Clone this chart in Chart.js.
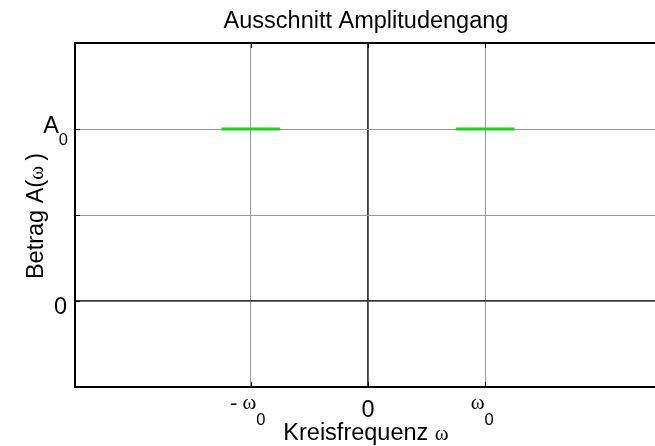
<!DOCTYPE html>
<html>
<head>
<meta charset="utf-8">
<script src="https://cdn.jsdelivr.net/npm/chart.js@4/dist/chart.umd.min.js"></script>
<style>
  html, body { margin: 0; padding: 0; background: #fff; overflow: hidden; }
  #wrap { width: 680px; height: 446px; }
</style>
</head>
<body>
<div id="wrap"><canvas id="amp" width="680" height="446"></canvas></div>
<script>
// Passband pieces of the amplitude response (frequency in units of w0)
const bandNeg = [-1.25, -0.75];
const bandPos = [0.75, 1.25];
const amplitude = 1;

// Axis ranges and ticks
const xRange = [-2.5, 2.5];
const yRange = [-0.5, 1.5];
const xTicks = [-1, 0, 1];
const xTickMain = ['- \u03c9', '0', '\u03c9'];
const xTickSub = ['0', '', '0'];
const yTicks = [0, 0.5, 1];
const yTickMain = ['0', '', 'A'];
const yTickSub = ['', '', '0'];

const SANS = '"Liberation Sans", Arial, sans-serif';
const SERIF = '"Liberation Serif", "Times New Roman", serif';
const BIG = '23.5px ' + SANS;
const SUB = '16.5px ' + SANS;
const SYM = '21px ' + SERIF;

// draw a run of [text, font, dy] pieces, aligned by total width
function drawRun(ctx, parts, x, y, align) {
    let total = 0;
    parts.forEach(p => { ctx.font = p[1]; total += ctx.measureText(p[0]).width; });
    let cx = align === 'center' ? x - total / 2 : (align === 'right' ? x - total : x);
    ctx.textAlign = 'left';
    ctx.textBaseline = 'alphabetic';
    parts.forEach(p => {
        ctx.font = p[1];
        ctx.fillText(p[0], cx, y + (p[2] || 0));
        cx += ctx.measureText(p[0]).width;
    });
}

const labelPlugin = {
    id: 'labels',
    afterDraw(chart) {
        const ctx = chart.ctx;
        const area = chart.chartArea;
        const xs = chart.scales.x, ys = chart.scales.y;
        ctx.save();
        ctx.fillStyle = '#000';

        // frame
        ctx.strokeStyle = '#000';
        ctx.lineWidth = 2;
        ctx.strokeRect(area.left, area.top, area.right - area.left, area.bottom - area.top);

        // small inward tick marks
        ctx.lineWidth = 1;
        ctx.beginPath();
        xTicks.forEach(v => {
            const px = Math.round(xs.getPixelForValue(v)) + 0.5;
            ctx.moveTo(px, area.bottom); ctx.lineTo(px, area.bottom - 5);
            ctx.moveTo(px, area.top); ctx.lineTo(px, area.top + 5);
        });
        yTicks.forEach(v => {
            const py = Math.round(ys.getPixelForValue(v)) + 0.5;
            ctx.moveTo(area.left, py); ctx.lineTo(area.left + 5, py);
        });
        ctx.stroke();

        // x tick labels: symbol part raised, subscript below
        xTicks.forEach((v, i) => {
            const px = xs.getPixelForValue(v);
            if (xTickSub[i]) {
                const parts = [[xTickMain[i], SYM, 0], [xTickSub[i], SUB, 16]];
                drawRun(ctx, parts, px - 3, area.bottom + 22, 'center');
            } else {
                drawRun(ctx, [[xTickMain[i], BIG, 0]], px, area.bottom + 30, 'center');
            }
        });

        // y tick labels
        yTicks.forEach((v, i) => {
            if (!yTickMain[i]) return;
            const py = ys.getPixelForValue(v);
            if (yTickSub[i]) {
                drawRun(ctx, [[yTickMain[i], BIG, 0], [yTickSub[i], SUB, 12]], area.left - 7, py + 4, 'right');
            } else {
                drawRun(ctx, [[yTickMain[i], BIG, 0]], area.left - 8, py + 13, 'right');
            }
        });

        // title and axis titles
        const mid = xs.getPixelForValue(0);
        drawRun(ctx, [['Ausschnitt Amplitudengang', BIG, 0]], mid - 2, 28, 'center');
        drawRun(ctx, [['Kreisfrequenz ', BIG, 0], ['\u03c9', SYM, 0]], mid - 2, 440, 'center');

        ctx.translate(43, 216);
        ctx.rotate(-Math.PI / 2);
        drawRun(ctx, [['Betrag A(', BIG, 0], ['\u03c9 ', SYM, 0], [')', BIG, 0]], 0, 0, 'center');
        ctx.restore();
    }
};

function gridColor(c) {
    return c.tick && c.tick.value === 0 ? '#3a3a3a' : '#999';
}
function gridWidth(c) {
    return c.tick && c.tick.value === 0 ? 1.8 : 1;
}

new Chart(document.getElementById('amp'), {
    type: 'scatter',
    data: {
        datasets: [
            {
                data: bandNeg.map(x => ({ x: x, y: amplitude })),
                showLine: true,
                borderColor: '#1fd21f',
                borderWidth: 3,
                pointRadius: 0
            },
            {
                data: bandPos.map(x => ({ x: x, y: amplitude })),
                showLine: true,
                borderColor: '#1fd21f',
                borderWidth: 3,
                pointRadius: 0
            }
        ]
    },
    options: {
        responsive: false,
        animation: false,
        layout: { padding: { left: 75, top: 43, right: 19, bottom: 59 } },
        plugins: { legend: { display: false }, tooltip: { enabled: false } },
        scales: {
            x: {
                type: 'linear',
                min: xRange[0], max: xRange[1],
                afterBuildTicks: s => { s.ticks = xTicks.map(v => ({ value: v })); },
                ticks: { display: false },
                border: { display: false },
                grid: { color: gridColor, lineWidth: gridWidth, drawTicks: false }
            },
            y: {
                type: 'linear',
                min: yRange[0], max: yRange[1],
                afterBuildTicks: s => { s.ticks = yTicks.map(v => ({ value: v })); },
                ticks: { display: false },
                border: { display: false },
                grid: { color: gridColor, lineWidth: gridWidth, drawTicks: false }
            }
        }
    },
    plugins: [labelPlugin]
});
</script>
</body>
</html>
